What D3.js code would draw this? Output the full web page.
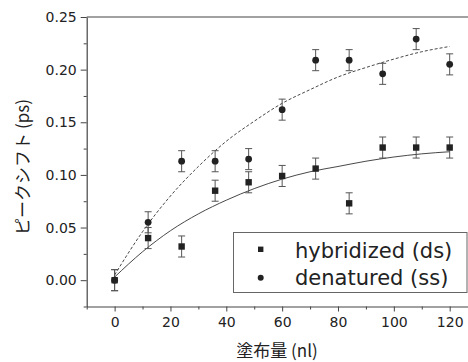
<!DOCTYPE html>
<html>
<head>
<meta charset="utf-8">
<script src="https://cdn.jsdelivr.net/npm/d3@7"></script>
<style>
  body { margin: 0; background: #fff; }
  svg { display: block; }
</style>
</head>
<body>
<div id="chart"></div>
<script>
// measured points (x = 塗布量 nl, y = ピークシフト ps)
const doses = [0, 12, 24, 36, 48, 60, 72, 84, 96, 108, 120];
const hybridized = [0.000, 0.040, 0.032, 0.085, 0.093, 0.099, 0.106, 0.073, 0.126, 0.126, 0.126];
const denatured = [0.000, 0.055, 0.113, 0.113, 0.115, 0.162, 0.209, 0.209, 0.196, 0.229, 0.205];
const errHyb = [0.01, 0.01, 0.01, 0.01, 0.01, 0.01, 0.01, 0.01, 0.01, 0.01, 0.01];
const errDen = [0.01, 0.01, 0.01, 0.01, 0.01, 0.01, 0.01, 0.01, 0.01, 0.01, 0.01];

// fitted curves
const fitX = [0, 10, 20, 30, 40, 50, 60, 70, 80, 90, 100, 110, 120];
const fitHyb = [0.003, 0.027, 0.047, 0.063, 0.076, 0.087, 0.096, 0.103, 0.108, 0.113, 0.117, 0.120, 0.122];
const fitDen = [0.005, 0.046, 0.080, 0.108, 0.132, 0.151, 0.168, 0.181, 0.193, 0.202, 0.210, 0.217, 0.222];

const xTicks = [0, 20, 40, 60, 80, 100, 120];
const xMinor = [-10, 10, 30, 50, 70, 90, 110, 130];
const yTicks = [0.00, 0.05, 0.10, 0.15, 0.20, 0.25];
const yMinor = [-0.025, 0.025, 0.075, 0.125, 0.175, 0.225];
const legendLabels = ['hybridized (ds)', 'denatured (ss)'];

const width = 468;
const height = 362;
const ink = '#222';
const axisColor = '#444';
const tickFont = '"DejaVu Sans", sans-serif';
const jpFont = '"Noto Sans CJK JP", sans-serif';

const x = d3.scaleLinear().domain([-10, 130]).range([86.7, 477.6]);
const y = d3.scaleLinear().domain([-0.025, 0.25]).range([306.5, 17]);

const svg = d3.select('#chart').append('svg')
  .attr('width', width)
  .attr('height', height);

svg.append('rect').attr('width', width).attr('height', height).attr('fill', '#fff');

// top frame line (right side is cut off in the original)
svg.append('line')
  .attr('x1', x(-10)).attr('x2', width)
  .attr('y1', y(0.25)).attr('y2', y(0.25))
  .attr('stroke', axisColor).attr('stroke-width', 1.2);

// minor ticks first, major axis on top
svg.append('g')
  .attr('transform', `translate(0,${y(-0.025)})`)
  .call(d3.axisBottom(x).tickValues(xMinor).tickSize(3).tickFormat(''))
  .call(g => g.select('.domain').remove())
  .call(g => g.selectAll('line').attr('stroke', axisColor));

svg.append('g')
  .attr('transform', `translate(${x(-10)},0)`)
  .call(d3.axisLeft(y).tickValues(yMinor).tickSize(3).tickFormat(''))
  .call(g => g.select('.domain').remove())
  .call(g => g.selectAll('line').attr('stroke', axisColor));

const xAxis = svg.append('g')
  .attr('transform', `translate(0,${y(-0.025)})`)
  .call(d3.axisBottom(x).tickValues(xTicks).tickSize(5).tickSizeOuter(0).tickPadding(6).tickFormat(d3.format('d')));

const yAxis = svg.append('g')
  .attr('transform', `translate(${x(-10)},0)`)
  .call(d3.axisLeft(y).tickValues(yTicks).tickSize(6).tickSizeOuter(0).tickPadding(4).tickFormat(d3.format('.2f')));

[xAxis, yAxis].forEach(ax => {
  ax.select('.domain').attr('stroke', axisColor).attr('stroke-width', 1.2);
  ax.selectAll('line').attr('stroke', axisColor);
  ax.selectAll('text')
    .attr('fill', ink)
    .style('font-family', tickFont)
    .style('font-size', '14px');
});

// fit curves
const curve = (vals) => d3.line()
  .x((d, i) => x(fitX[i]))
  .y(d => y(d))
  .curve(d3.curveMonotoneX)(vals);

svg.append('path')
  .attr('d', curve(fitDen))
  .attr('fill', 'none')
  .attr('stroke', '#333')
  .attr('stroke-width', 0.9)
  .attr('stroke-dasharray', '3,2');

svg.append('path')
  .attr('d', curve(fitHyb))
  .attr('fill', 'none')
  .attr('stroke', '#333')
  .attr('stroke-width', 0.9);

// error bars
function errorBars(vals, errs) {
  const g = svg.append('g').attr('stroke', '#555').attr('stroke-width', 1);
  vals.forEach((v, i) => {
    const cx = x(doses[i]);
    const lo = y(v - errs[i]);
    const hi = y(v + errs[i]);
    g.append('line').attr('x1', cx).attr('x2', cx).attr('y1', lo).attr('y2', hi);
    g.append('line').attr('x1', cx - 3.5).attr('x2', cx + 3.5).attr('y1', lo).attr('y2', lo);
    g.append('line').attr('x1', cx - 3.5).attr('x2', cx + 3.5).attr('y1', hi).attr('y2', hi);
  });
}
errorBars(denatured, errDen);
errorBars(hybridized, errHyb);

svg.append('g').selectAll('circle')
  .data(denatured)
  .join('circle')
  .attr('cx', (d, i) => x(doses[i]))
  .attr('cy', d => y(d))
  .attr('r', 3.4)
  .attr('fill', ink);

svg.append('g').selectAll('rect')
  .data(hybridized)
  .join('rect')
  .attr('x', (d, i) => x(doses[i]) - 3.2)
  .attr('y', d => y(d) - 3.2)
  .attr('width', 6.4)
  .attr('height', 6.4)
  .attr('fill', ink);

// legend
const legend = svg.append('g');
legend.append('rect')
  .attr('x', 233.5).attr('y', 232.5)
  .attr('width', 233.5).attr('height', 60)
  .attr('fill', '#fff')
  .attr('stroke', '#666')
  .attr('stroke-width', 1);

legend.append('rect')
  .attr('x', 258).attr('y', 246.6)
  .attr('width', 5.4).attr('height', 5.4)
  .attr('fill', ink);
legend.append('circle')
  .attr('cx', 260.7).attr('cy', 277.7)
  .attr('r', 3)
  .attr('fill', ink);

legend.selectAll('text')
  .data(legendLabels)
  .join('text')
  .attr('x', 295)
  .attr('y', (d, i) => 257.5 + i * 27.5)
  .attr('fill', ink)
  .style('font-family', tickFont)
  .style('font-size', '21px')
  .text(d => d);

// axis titles
svg.append('text')
  .attr('x', 277)
  .attr('y', 357)
  .attr('text-anchor', 'middle')
  .attr('fill', ink)
  .style('font-family', jpFont)
  .style('font-size', '17px')
  .text('塗布量 (nl)');

svg.append('text')
  .attr('transform', 'translate(28.5,167) rotate(-90)')
  .attr('text-anchor', 'middle')
  .attr('fill', ink)
  .style('font-family', jpFont)
  .style('font-size', '17px')
  .text('ピークシフト (ps)');
</script>
</body>
</html>
